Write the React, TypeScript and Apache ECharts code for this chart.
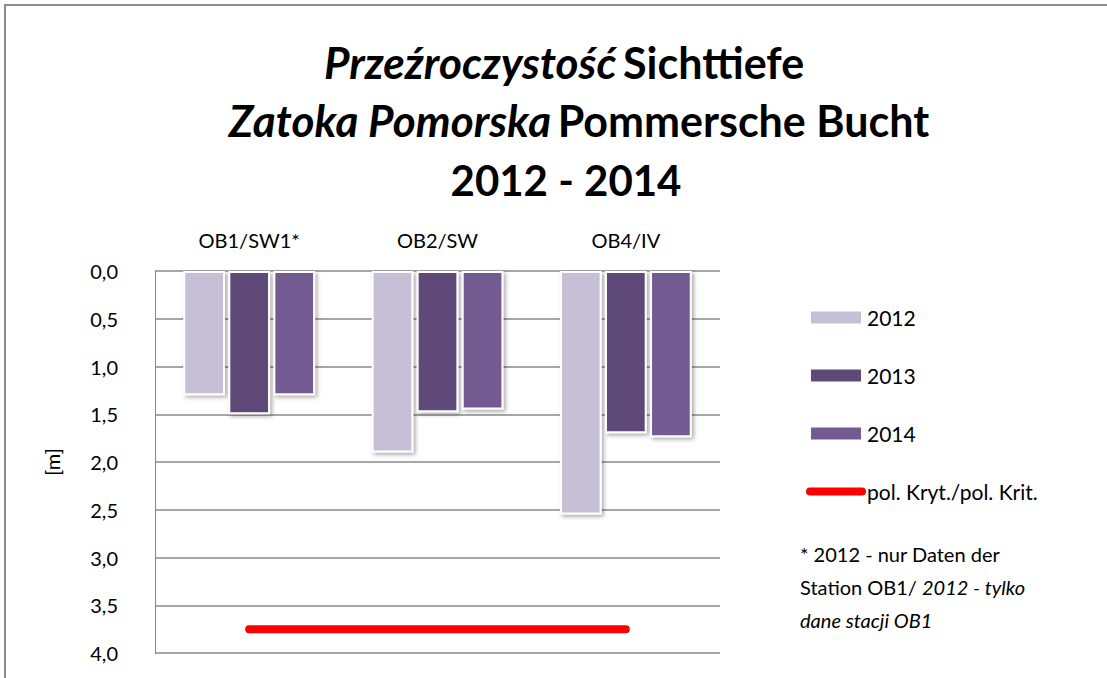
import React, { useEffect, useRef } from "react";
import * as echarts from "echarts";

const categories = ["OB1/SW1*", "OB2/SW", "OB4/IV"];
const years = ["2012", "2013", "2014"];
const values2012 = [1.3, 1.9, 2.55];
const values2013 = [1.5, 1.48, 1.7];
const values2014 = [1.3, 1.45, 1.74];
const critical = [3.75, 3.75, 3.75];
const criticalName = "pol. Kryt./pol. Krit.";
const colors = ["#C6BFD6", "#5E4A78", "#735A91"];
const FONT = "Lato, 'Noto Sans', sans-serif";

export default function App() {
  const ref = useRef<HTMLDivElement>(null);
  useEffect(() => {
    const chart = echarts.init(ref.current!, null, { renderer: "svg" });
    const barSeries = [values2012, values2013, values2014].map((d, i) => ({
      name: years[i],
      type: "bar",
      data: d,
      barGap: "8%",
      barCategoryGap: "30%",
      itemStyle: {
        color: colors[i],
        borderColor: "#ffffff",
        borderWidth: 2,
        shadowColor: "rgba(0,0,0,0.35)",
        shadowBlur: 4,
        shadowOffsetX: 2,
        shadowOffsetY: 2,
      },
    }));
    const titleRich = {
      i: { fontSize: 44, fontStyle: "italic", fontWeight: "bold", fontFamily: FONT, fill: "#000" },
      n: { fontSize: 43, fontWeight: "bold", fontFamily: FONT, fill: "#000" },
    };
    chart.setOption({
      animation: false,
      backgroundColor: "#ffffff",
      textStyle: { fontFamily: FONT },
      grid: { left: 155, right: 387, top: 271, bottom: 25 },
      xAxis: {
        type: "category",
        data: categories,
        position: "top",
        axisLine: { show: false },
        axisTick: { show: false },
        axisLabel: { fontSize: 20, color: "#000", margin: 21, fontFamily: FONT },
      },
      yAxis: {
        type: "value",
        inverse: true,
        min: 0,
        max: 4,
        interval: 0.5,
        name: "[m]",
        nameLocation: "middle",
        nameGap: 93,
        nameRotate: 90,
        nameTextStyle: { fontSize: 20, color: "#000", fontFamily: FONT },
        axisLine: { show: true, lineStyle: { color: "#888888", width: 1 } },
        axisTick: { show: false },
        axisLabel: {
          fontSize: 20,
          color: "#000",
          margin: 37,
          fontFamily: FONT,
          formatter: (v: number) => v.toFixed(1).replace(".", ","),
        },
        splitLine: { lineStyle: { color: "#888888", width: 1.5 } },
      },
      legend: {
        orient: "vertical",
        left: 801,
        top: 302,
        itemWidth: 60,
        itemHeight: 14,
        itemGap: 37,
        textStyle: { fontSize: 21, color: "#000", fontFamily: FONT, padding: [0, 0, 0, -4] },
        data: [
          ...years.map((y) => ({
            name: y,
            icon: "path://M7,0 H59 V14 H7 Z",
          })),
          {
            name: criticalName,
            icon: "path://M4,0 H56 A4,4 0 0 1 56,8 H4 A4,4 0 0 1 4,0 Z",
            itemStyle: { color: "#ff0000" },
          },
        ],
      },
      series: [
        ...barSeries,
        {
          name: criticalName,
          type: "line",
          data: critical,
          symbol: "none",
          lineStyle: { color: "#ff0000", width: 8, cap: "round" },
          itemStyle: { color: "#ff0000" },
          z: 5,
        },
      ],
      graphic: [
        {
          type: "rect",
          shape: { x: 5, y: 5, width: 1120, height: 700 },
          style: { fill: "none", stroke: "#8c8c8c", lineWidth: 2 },
          silent: true,
        },
        {
          type: "text",
          x: 564,
          y: 62,
          style: {
            text: "{i|Przeźroczystość}  {n|Sichttiefe}",
            align: "center",
            verticalAlign: "middle",
            rich: titleRich,
          },
        },
        {
          type: "text",
          x: 579,
          y: 120,
          style: {
            text: "{i|Zatoka Pomorska}  {n|Pommersche Bucht}",
            align: "center",
            verticalAlign: "middle",
            rich: titleRich,
          },
        },
        {
          type: "text",
          x: 566,
          y: 180,
          style: {
            text: "2012 - 2014",
            align: "center",
            verticalAlign: "middle",
            fontSize: 42,
            fontWeight: "bold",
            fontFamily: FONT,
            fill: "#000",
          },
        },
        {
          type: "text",
          x: 800,
          y: 537,
          style: {
            text: "{n|* 2012 - nur Daten der}\n{n|Station OB1/ }{i|2012 - tylko}\n{i|dane stacji OB1}",
            align: "left",
            verticalAlign: "top",
            lineHeight: 33,
            rich: {
              n: { fontSize: 20, fontFamily: FONT, fill: "#000", lineHeight: 33 },
              i: { fontSize: 20, fontStyle: "italic", fontFamily: FONT, fill: "#000", lineHeight: 33 },
            },
          },
        },
      ],
    });
    return () => chart.dispose();
  }, []);
  return (
    <div
      ref={ref}
      style={{ position: "absolute", left: 0, top: 0, width: 1107, height: 678 }}
    />
  );
}
